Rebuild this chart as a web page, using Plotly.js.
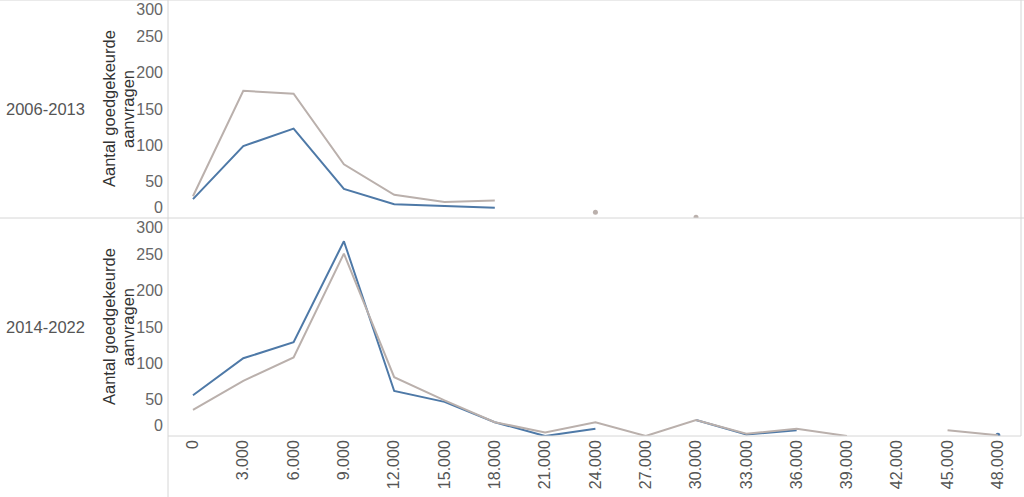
<!DOCTYPE html>
<html>
<head>
<meta charset="utf-8">
<script src="https://cdn.plot.ly/plotly-3.0.1.min.js"></script>
<style>
    html, body { margin: 0; padding: 0; background: #fff; }
    #chart { width: 1024px; height: 497px; }
</style>
</head>
<body>
<div id="chart"></div>
<script>
// Bins on the x axis (amount in euro), one point every 3.000
const bins = [0, 3000, 6000, 9000, 12000, 15000, 18000, 21000, 24000, 27000, 30000, 33000, 36000, 39000, 42000, 45000, 48000];

// Row labels (periods)
const periods = ['2006-2013', '2014-2022'];

// Values per period, null where there is no data
const blue2006 = [26, 99, 123, 40, 19, 17, 14, null, null, null, null, null, null, null, null, null, null];
const grey2006 = [30, 175, 171, 74, 32, 22, 24, null, 8, null, 1, null, null, null, null, null, null];
const blue2014 = [56, 107, 129, 268, 62, 47, 19, 0, 10, null, 22, 2, 8, null, null, null, 1];
const grey2014 = [36, 76, 108, 251, 81, 49, 19, 5, 19, 0, 22, 3, 10, 0, null, 8, 1];

// Y tick labels (the end labels are pulled inside the pane, like Tableau does)
const yTickText = ['0', '50', '100', '150', '200', '250', '300'];
const yTickPos = [14, 50, 100, 150, 200, 250, 287];

// Axis title, two lines
const yTitleLines = ['Aantal goedgekeurde', 'aanvragen'];

const BLUE = '#4e79a7';
const GREY = '#bab0ac';
const LINE_COLOR = '#d6d6d6';
const FONT = '"Liberation Sans", Arial, sans-serif';

// Points without a neighbour are not visible as a line, draw them as dots
function isolatedPoints(values) {
    const xs = [];
    const ys = [];
    values.forEach((v, i) => {
        if (v === null) return;
        const prev = i > 0 ? values[i - 1] : null;
        const next = i < values.length - 1 ? values[i + 1] : null;
        if (prev === null && next === null) {
            xs.push(bins[i]);
            ys.push(v);
        }
    });
    return { xs, ys };
}

function seriesTraces(values, color, xaxis, yaxis) {
    const dots = isolatedPoints(values);
    return [
        {
            x: bins, y: values,
            xaxis: xaxis, yaxis: yaxis,
            type: 'scatter', mode: 'lines',
            connectgaps: false,
            line: { color: color, width: 2 },
            hoverinfo: 'x+y', showlegend: false
        },
        {
            x: dots.xs, y: dots.ys,
            xaxis: xaxis, yaxis: yaxis,
            type: 'scatter', mode: 'markers',
            marker: { color: color, size: 5 },
            hoverinfo: 'x+y', showlegend: false
        }
    ];
}

const data = [].concat(
    seriesTraces(blue2006, BLUE, 'x', 'y'),
    seriesTraces(grey2006, GREY, 'x', 'y'),
    seriesTraces(blue2014, BLUE, 'x2', 'y2'),
    seriesTraces(grey2014, GREY, 'x2', 'y2')
);

// Plot area in px, used to place things in the margins
const marginLeft = 168;
const marginRight = 3;
const marginBottom = 61;
const plotW = 1024 - marginLeft - marginRight;
const plotH = 497 - marginBottom;
const px = x => (x - marginLeft) / plotW;

function yAxis(domain, anchor) {
    return {
        domain: domain,
        anchor: anchor,
        range: [0, 300],
        tickvals: yTickPos,
        ticktext: yTickText,
        ticks: '',
        ticklabelstandoff: 4,
        showgrid: false,
        zeroline: false,
        showline: false,
        fixedrange: true,
        tickfont: { family: FONT, size: 16, color: '#666' }
    };
}

const xRange = [-1490, 49380];

// Row labels and the axis titles, one set per pane
const annotations = [];
periods.forEach((p, i) => {
    const yMid = i === 0 ? 0.75 : 0.25;
    annotations.push({
        text: p,
        xref: 'paper', yref: 'paper',
        x: px(4), y: yMid,
        xanchor: 'left', yanchor: 'middle',
        showarrow: false,
        font: { family: FONT, size: 16.5, color: '#555' }
    });
    yTitleLines.forEach((line, j) => {
        annotations.push({
            text: line,
            xref: 'paper', yref: 'paper',
            x: px(109 + j * 19), y: yMid,
            xanchor: 'center', yanchor: 'middle',
            textangle: -90,
            showarrow: false,
            font: { family: FONT, size: 16.5, color: '#333' }
        });
    });
});

const layout = {
    width: 1024,
    height: 497,
    margin: { t: 0, l: marginLeft, r: marginRight, b: marginBottom },
    paper_bgcolor: '#fff',
    plot_bgcolor: '#fff',
    separators: ',.',
    xaxis: {
        domain: [0, 1], anchor: 'y', range: xRange,
        showticklabels: false, showgrid: false, zeroline: false, ticks: ''
    },
    xaxis2: {
        domain: [0, 1], anchor: 'y2', range: xRange,
        tick0: 0, dtick: 3000, tickformat: ',d', tickangle: -90,
        ticks: '', showgrid: false, zeroline: false,
        tickfont: { family: FONT, size: 16, color: '#555' }
    },
    yaxis: yAxis([0.5, 1], 'x'),
    yaxis2: yAxis([0, 0.5], 'x2'),
    annotations: annotations,
    shapes: [
        // frame and pane dividers
        { type: 'line', xref: 'paper', yref: 'paper', x0: px(0), x1: px(1024), y0: 1, y1: 1, line: { color: LINE_COLOR, width: 1 } },
        { type: 'line', xref: 'paper', yref: 'paper', x0: px(0), x1: px(1024), y0: 0.5, y1: 0.5, line: { color: LINE_COLOR, width: 1 } },
        { type: 'line', xref: 'paper', yref: 'paper', x0: 0, x1: 1, y0: 0, y1: 0, line: { color: LINE_COLOR, width: 1 } },
        { type: 'line', xref: 'paper', yref: 'paper', x0: 0, x1: 0, y0: 1, y1: -marginBottom / plotH, line: { color: LINE_COLOR, width: 1 } },
        { type: 'line', xref: 'paper', yref: 'paper', x0: 1, x1: 1, y0: 0, y1: 1, line: { color: LINE_COLOR, width: 1 } }
    ]
};

Plotly.newPlot('chart', data, layout, { displayModeBar: false, staticPlot: true });
</script>
</body>
</html>
